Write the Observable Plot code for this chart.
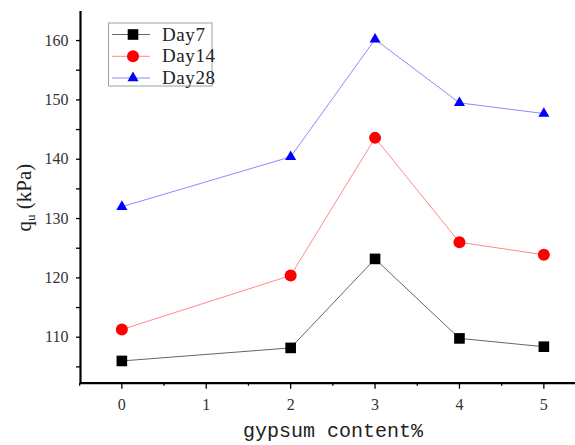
<!DOCTYPE html>
<html><head><meta charset="utf-8">
<script src="https://cdn.jsdelivr.net/npm/d3@7"></script>
<script src="https://cdn.jsdelivr.net/npm/@observablehq/plot@0.6"></script>
<style>
html,body{margin:0;padding:0;background:#fff;}
#wrap{position:relative;width:575px;height:445px;overflow:hidden;}
#wrap svg.overlay{position:absolute;left:0;top:0;pointer-events:none;}
#wrap svg text{font-family:"Liberation Serif","Times New Roman","DejaVu Serif",serif;}
#wrap svg text.mono{font-family:"Liberation Mono","Courier New","DejaVu Sans Mono",monospace;}
</style></head><body><div id="wrap"></div>
<script>
// ---- data ----
const gypsum = [0, 2, 3, 4, 5];
const day7  = [106.0, 108.2, 123.2, 109.8, 108.4];
const day14 = [111.3, 120.4, 143.6, 126.0, 123.9];
const day28 = [132.0, 140.4, 160.2, 149.5, 147.7];
const seriesNames = ["Day7", "Day14", "Day28"];
const xTicks = [0, 1, 2, 3, 4, 5];
const xMinorTicks = [-0.5, 0.5, 1.5, 2.5, 3.5, 4.5];
const yTicks = [110, 120, 130, 140, 150, 160];
const yMinorTicks = [105, 115, 125, 135, 145, 155];
const xTitle = "gypsum content%";
const yTitle = ["q", "u", " (kPa)"];

// ---- styles ----
const xDomain = [-0.49, 5.375];
const yDomain = [102.25, 164.9];
const style = {
  Day7:  {symbol: "square",   fill: "#000000", line: "#666666", r: 6.0},
  Day14: {symbol: "circle",   fill: "#ff0000", line: "#ff8a8a", r: 6.0},
  Day28: {symbol: "triangle", fill: "#0000ff", line: "#8a8aff", r: 4.1}
};

const seriesValues = [day7, day14, day28];
const rows = seriesNames.map((name, i) =>
  gypsum.map((g, j) => ({series: name, x: g, y: seriesValues[i][j]})));

const marks = [];
rows.forEach((data, i) => {
  const s = style[seriesNames[i]];
  marks.push(Plot.line(data, {x: "x", y: "y", stroke: s.line, strokeWidth: 1}));
});
rows.forEach((data, i) => {
  const s = style[seriesNames[i]];
  marks.push(Plot.dot(data, {x: "x", y: "y", symbol: () => s.symbol, fill: s.fill, stroke: "none", r: s.r}));
});

const plot = Plot.plot({
  width: 575,
  height: 445,
  marginLeft: 80,
  marginRight: 0,
  marginTop: 11,
  marginBottom: 62.3,
  style: {fontSize: "16px", background: "#fff", color: "#000"},
  x: {domain: xDomain, label: null},
  y: {domain: yDomain, label: null},
  symbol: {type: "identity"},
  marks: [
    Plot.axisY(yTicks, {tickSize: 4, tickPadding: 8, stroke: "#000", fill: "#333", strokeWidth: 1.3, label: null, fontSize: 16, letterSpacing: 0.5}),
    Plot.axisY(yMinorTicks, {tickSize: 4, stroke: "#000", fill: "none", strokeWidth: 1.3, label: null}),
    Plot.axisX(xTicks, {tickSize: 6, tickPadding: 9, stroke: "#000", fill: "#333", strokeWidth: 1.3, label: null, fontSize: 16}),
    Plot.axisX(xMinorTicks, {tickSize: 3, stroke: "#000", fill: "none", strokeWidth: 1.3, label: null}),
    Plot.ruleY([yDomain[0]], {stroke: "#000", strokeWidth: 2.2}),
    Plot.ruleX([xDomain[0]], {stroke: "#000", strokeWidth: 2.2}),
    ...marks
  ]
});
const wrap = document.getElementById("wrap");
wrap.appendChild(plot);

// ---- overlay: axis titles and legend ----
const ov = d3.select(wrap).append("svg").attr("class", "overlay")
  .attr("width", 575).attr("height", 445);

ov.append("text").attr("class", "mono")
  .attr("x", 333).attr("y", 436.5)
  .attr("text-anchor", "middle")
  .attr("font-size", 20)
  .attr("fill", "#222")
  .text(xTitle);

const yt = ov.append("text")
  .attr("transform", "translate(31,197.5) rotate(-90)")
  .attr("text-anchor", "middle")
  .attr("font-size", 21)
  .attr("fill", "#222");
yt.append("tspan").text(yTitle[0]);
yt.append("tspan").attr("dy", 4).attr("font-size", 13).text(yTitle[1]);
yt.append("tspan").attr("dy", -4).text(yTitle[2]);

const lg = ov.append("g").attr("transform", "translate(108.5,23)");
lg.append("rect").attr("width", 103.5).attr("height", 63)
  .attr("fill", "#fff").attr("stroke", "#a0a0a0").attr("stroke-width", 1);
const rowY = [11.5, 33.3, 55];
seriesNames.forEach((name, i) => {
  const s = style[name];
  const g = lg.append("g").attr("transform", `translate(0,${rowY[i]})`);
  g.append("line").attr("x1", 3.5).attr("x2", 41.5).attr("y1", 0).attr("y2", 0)
    .attr("stroke", s.line).attr("stroke-width", 1);
  const sym = {square: d3.symbolSquare, circle: d3.symbolCircle, triangle: d3.symbolTriangle}[s.symbol];
  g.append("path").attr("transform", "translate(24.5,0)")
    .attr("d", d3.symbol(sym, Math.PI * s.r * s.r)())
    .attr("fill", s.fill);
  g.append("text").attr("x", 53.5).attr("y", 6)
    .attr("font-size", 19).attr("letter-spacing", 0.6)
    .attr("fill", "#222").text(name);
});
</script></body></html>
